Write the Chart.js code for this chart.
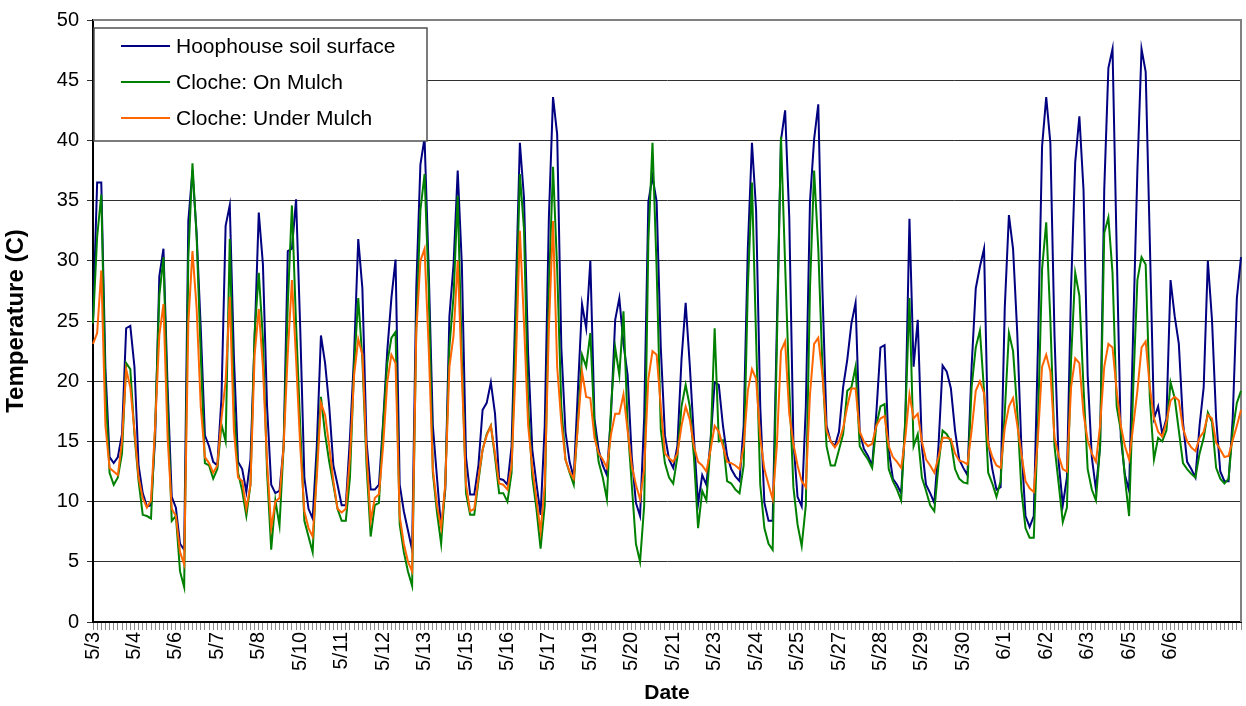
<!DOCTYPE html>
<html>
<head>
<meta charset="utf-8">
<script src="https://cdn.jsdelivr.net/npm/chart.js@4.4.1/dist/chart.umd.min.js"></script>
<style>
  html, body { margin: 0; padding: 0; background: #ffffff; }
  #wrap { width: 1246px; height: 706px; position: relative; }
</style>
</head>
<body>
<div id="wrap"><canvas id="c" width="1246" height="706"></canvas></div>
<script>
// ---- data (one point every ~1/10 of a label interval) ----
const dateLabels = ['5/3','5/4','5/6','5/7','5/8','5/10','5/11','5/12','5/13','5/15','5/16','5/17','5/19','5/20','5/21','5/23','5/24','5/25','5/27','5/28','5/29','5/30','6/1','6/2','6/3','6/5','6/6'];
const pointsPerLabel = 10;

const hoophouse = [
25.0,36.5,36.5,21.0,13.7,13.2,13.7,15.6,24.4,24.6,
21.2,13.0,10.7,9.6,9.7,15.3,28.7,31.0,19.5,10.4,
9.5,6.5,6.0,33.3,37.5,32.3,24.4,15.5,14.6,13.3,
13.0,18.6,32.9,34.6,22.0,13.3,12.7,10.8,13.5,23.5,
34.0,29.7,17.9,11.4,10.7,10.9,14.6,30.8,31.0,35.1,
24.4,12.0,9.4,8.6,14.6,23.8,21.5,17.9,13.0,11.4,
9.7,9.7,15.3,22.2,31.8,27.7,15.0,11.0,11.0,11.4,
16.6,22.5,26.9,30.1,11.4,9.2,7.6,6.0,27.7,38.0,
40.2,29.3,16.3,12.0,7.8,11.0,25.4,29.7,37.5,29.7,
13.7,10.6,10.6,13.0,17.6,18.2,19.9,17.3,11.9,11.8,
11.4,14.6,27.1,39.8,35.2,22.2,14.3,11.5,8.9,16.3,
33.6,43.6,40.5,22.8,15.8,13.3,12.0,19.2,26.4,24.4,
30.0,16.9,14.3,13.0,12.2,17.3,25.1,26.9,23.1,20.5,
13.7,9.9,8.8,17.0,34.9,37.0,34.9,22.8,15.5,13.5,
12.8,14.6,21.8,26.5,21.3,15.3,9.8,12.2,11.4,15.0,
19.9,19.7,16.3,13.8,12.7,12.1,11.7,16.3,31.0,39.8,
34.2,17.9,9.9,8.4,8.4,24.4,40.0,42.5,33.6,15.0,
10.4,9.6,17.9,34.9,40.1,43.0,27.7,16.3,15.0,14.6,
15.8,19.5,21.8,24.8,26.5,15.8,14.4,13.8,13.0,17.3,
22.8,23.0,14.3,11.9,11.4,10.7,16.6,33.5,21.2,25.1,
14.6,11.4,10.7,9.9,14.6,21.3,20.8,19.4,15.9,13.5,
12.8,12.2,21.2,27.7,29.5,31.0,15.0,12.7,11.0,11.2,
26.1,33.8,31.0,24.1,14.6,8.8,7.9,8.8,22.8,39.5,
43.6,39.8,23.8,13.3,9.7,12.0,27.7,38.2,42.0,35.9,
20.5,13.7,11.0,14.6,35.9,46.0,47.6,31.0,15.3,12.2,
10.9,24.4,37.5,47.6,45.7,31.6,16.9,17.9,15.6,16.9,
28.4,25.4,23.1,16.6,13.3,12.7,12.0,16.3,19.5,30.0,
25.1,16.9,12.5,11.7,11.7,16.9,26.9,30.3
];

const onMulch = [
24.8,32.0,35.5,19.5,12.4,11.4,12.0,14.0,21.5,21.0,
15.6,11.7,8.9,8.8,8.6,16.3,27.1,30.3,17.9,8.4,
8.8,4.2,2.9,30.3,38.1,32.0,22.2,13.2,13.0,11.9,
12.7,16.4,15.0,31.8,17.9,12.4,10.9,8.8,11.4,24.0,
29.0,23.5,12.4,6.0,10.1,8.0,14.6,26.4,34.6,24.7,
16.3,8.4,7.1,5.8,13.0,18.7,15.6,13.3,11.4,9.4,
8.4,8.4,12.0,21.2,26.9,21.8,13.0,7.1,9.7,9.9,
16.3,21.5,23.6,24.1,8.1,5.8,4.2,3.0,24.4,34.2,
37.2,27.7,12.4,9.1,6.5,11.4,22.8,27.1,35.4,21.8,
10.7,8.9,8.9,11.7,14.3,15.6,16.3,13.7,10.7,10.7,
10.0,12.4,24.4,37.2,32.6,17.9,12.0,9.4,6.1,9.7,
27.7,37.8,29.3,17.9,13.5,12.4,11.4,16.6,22.2,21.2,
24.0,16.3,13.3,12.0,10.2,17.9,22.8,20.5,25.8,16.3,
11.4,6.5,5.0,9.7,31.6,39.8,29.3,16.0,13.2,12.0,
11.5,13.7,17.9,19.7,17.9,13.7,7.8,10.9,10.1,14.6,
24.4,15.0,15.1,11.7,11.5,11.0,10.7,13.0,27.7,36.5,
23.5,11.4,7.8,6.5,6.0,22.8,40.3,29.7,19.5,11.2,
8.1,6.3,9.7,27.7,37.5,31.0,21.2,14.6,13.0,13.0,
14.3,15.6,19.2,19.5,21.2,14.6,14.0,13.5,12.8,16.3,
17.9,18.1,12.7,11.7,11.0,10.1,16.9,26.9,14.6,15.6,
12.0,10.9,9.7,9.2,13.0,15.9,15.6,15.0,12.7,11.9,
11.6,11.5,19.5,22.8,24.2,19.2,12.4,11.5,10.4,11.7,
17.4,24.0,22.5,17.6,11.0,7.8,7.0,7.0,16.3,29.3,
33.2,25.1,14.6,11.5,8.3,9.5,21.8,29.0,27.1,19.5,
12.7,11.0,10.1,14.6,32.3,33.6,29.0,17.9,15.9,11.9,
8.8,19.5,28.4,30.3,29.7,18.6,13.5,15.3,15.0,15.9,
19.9,18.6,15.9,13.2,12.7,12.3,12.0,14.0,15.3,17.4,
16.6,12.8,11.9,11.5,11.9,15.9,18.2,19.2
];

const underMulch = [
23.1,24.0,29.2,16.3,12.8,12.5,12.2,15.0,21.0,19.5,
15.9,12.0,10.3,9.5,10.1,16.3,23.8,26.4,15.3,9.4,
8.8,5.8,4.8,24.8,30.8,26.1,17.9,13.7,13.2,12.4,
13.0,16.9,20.0,27.0,15.9,12.0,11.7,9.4,11.4,22.2,
26.0,21.2,13.3,7.8,10.0,10.3,14.6,22.3,28.4,21.8,
14.6,9.2,7.8,7.1,12.0,18.2,17.2,14.6,11.7,9.4,
9.1,9.4,13.7,20.5,23.5,22.2,14.0,8.4,10.3,10.6,
14.6,19.9,22.2,21.5,8.8,6.5,5.0,4.2,24.1,30.0,
31.0,22.8,12.7,9.7,7.8,11.4,21.2,23.8,30.0,20.5,
11.4,9.2,9.4,12.0,14.3,15.5,16.3,14.0,11.5,11.4,
11.0,13.0,21.2,32.5,24.8,16.3,12.8,10.2,7.5,11.4,
24.4,33.3,21.2,16.6,13.5,12.5,11.9,16.3,20.8,18.7,
18.6,15.3,14.0,13.5,12.8,15.6,17.3,17.3,18.9,15.9,
13.0,11.4,10.2,12.7,20.2,22.5,22.2,17.9,14.0,13.6,
13.3,14.0,16.3,17.9,16.8,14.6,13.3,13.0,12.5,14.3,
16.3,15.8,14.6,13.3,13.2,13.0,12.7,14.6,19.2,21.0,
20.2,15.3,12.7,11.4,10.2,14.6,22.5,23.3,17.3,14.8,
13.0,11.7,11.2,18.9,23.1,23.6,20.5,15.9,15.0,14.5,
15.0,16.1,17.9,19.4,19.4,15.8,15.0,14.6,14.8,16.3,
16.9,17.1,14.6,13.7,13.3,12.8,15.3,18.9,16.9,17.3,
15.0,13.5,13.0,12.4,13.7,15.3,15.3,15.2,14.0,13.4,
13.3,13.1,15.9,19.2,20.0,19.0,14.8,13.7,13.0,12.8,
16.1,17.9,18.6,16.4,14.0,11.7,11.1,10.8,15.3,21.2,
22.2,20.8,15.3,13.8,12.7,12.5,19.5,21.9,21.5,17.3,
15.1,14.0,13.3,16.3,21.2,23.1,22.8,19.2,16.3,14.6,
13.5,16.3,19.2,22.8,23.3,19.5,16.9,15.8,15.4,16.6,
18.4,18.7,18.4,16.1,15.0,14.5,14.2,15.3,15.8,17.2,
16.9,14.9,14.3,13.7,13.8,15.1,16.3,17.6
];

const seriesNames = ['Hoophouse soil surface', 'Cloche: On Mulch', 'Cloche: Under Mulch'];
const seriesColors = ['#000080', '#008000', '#FF6600'];
const yTickStep = 5, yMin = 0, yMax = 50;

// ---- build category labels: a date every pointsPerLabel points ----
const labels = hoophouse.map((_, i) =>
  (i % pointsPerLabel === 0 && dateLabels[i / pointsPerLabel]) ? dateLabels[i / pointsPerLabel] : '');

const FONT = "'Liberation Sans', Arial, sans-serif";

const frameAndLegend = {
  id: 'frameAndLegend',
  beforeDatasetsDraw(chart) {
    const { ctx, chartArea: a } = chart;
    ctx.save();
    ctx.strokeStyle = '#808080';
    ctx.lineWidth = 2;
    ctx.beginPath();
    ctx.moveTo(a.left, a.top);
    ctx.lineTo(a.right, a.top);
    ctx.lineTo(a.right, a.bottom);
    ctx.stroke();
    ctx.restore();
  },
  afterDraw(chart) {
    const { ctx, chartArea: a } = chart;
    const bx = a.left + 1, by = a.top + 8, bw = 333, bh = 113;
    ctx.save();
    ctx.fillStyle = '#ffffff';
    ctx.fillRect(bx, by, bw, bh);
    ctx.strokeStyle = '#505050';
    ctx.lineWidth = 1.5;
    ctx.strokeRect(bx, by, bw, bh);
    ctx.font = '21px ' + FONT;
    ctx.textBaseline = 'middle';
    ctx.textAlign = 'left';
    chart.data.datasets.forEach((ds, k) => {
      const yy = by + 18 + k * 36;
      ctx.strokeStyle = ds.borderColor;
      ctx.lineWidth = 2;
      ctx.beginPath();
      ctx.moveTo(bx + 27, yy);
      ctx.lineTo(bx + 76, yy);
      ctx.stroke();
      ctx.fillStyle = '#000000';
      ctx.fillText(ds.label, bx + 82, yy + 1);
    });
    ctx.restore();
  }
};

new Chart(document.getElementById('c'), {
  type: 'line',
  data: {
    labels: labels,
    datasets: [
      { label: seriesNames[0], data: hoophouse, borderColor: seriesColors[0], order: 2 },
      { label: seriesNames[1], data: onMulch, borderColor: seriesColors[1], order: 1 },
      { label: seriesNames[2], data: underMulch, borderColor: seriesColors[2], order: 0 }
    ].map(d => Object.assign(d, { borderWidth: 2, pointRadius: 0, tension: 0, fill: false, backgroundColor: d.borderColor }))
  },
  options: {
    responsive: false,
    devicePixelRatio: 1,
    animation: false,
    layout: { padding: { top: 20, right: 5, left: 0, bottom: 0 } },
    plugins: { legend: { display: false }, tooltip: { enabled: false } },
    scales: {
      x: {
        type: 'category',
        offset: false,
        grid: { display: true, drawOnChartArea: false, drawTicks: true, tickLength: 8, color: '#8a8a8a', lineWidth: 1 },
        border: { display: true, color: '#000000', width: 2 },
        ticks: { autoSkip: false, minRotation: 90, maxRotation: 90, padding: 2, color: '#000000', font: { family: FONT, size: 20 } },
        title: { display: true, text: 'Date', color: '#000000', font: { family: FONT, size: 21, weight: 'bold' }, padding: { top: 0, bottom: 0 } },
        afterFit(scale) { scale.height = 84; scale.paddingLeft = 0; scale.paddingRight = 0; }
      },
      y: {
        min: yMin, max: yMax,
        grid: { color: '#303030', lineWidth: 1, drawTicks: true, tickLength: 6 },
        border: { display: true, color: '#000000', width: 2 },
        ticks: { stepSize: yTickStep, padding: 8, color: '#000000', font: { family: FONT, size: 20 } },
        title: { display: true, text: 'Temperature (C)', color: '#000000', font: { family: FONT, size: 24, weight: 'bold' }, padding: { top: 2, bottom: 4 } },
        afterFit(scale) { scale.width = 93; scale.paddingTop = 0; scale.paddingBottom = 0; }
      }
    }
  },
  plugins: [frameAndLegend]
});
</script>
</body>
</html>
